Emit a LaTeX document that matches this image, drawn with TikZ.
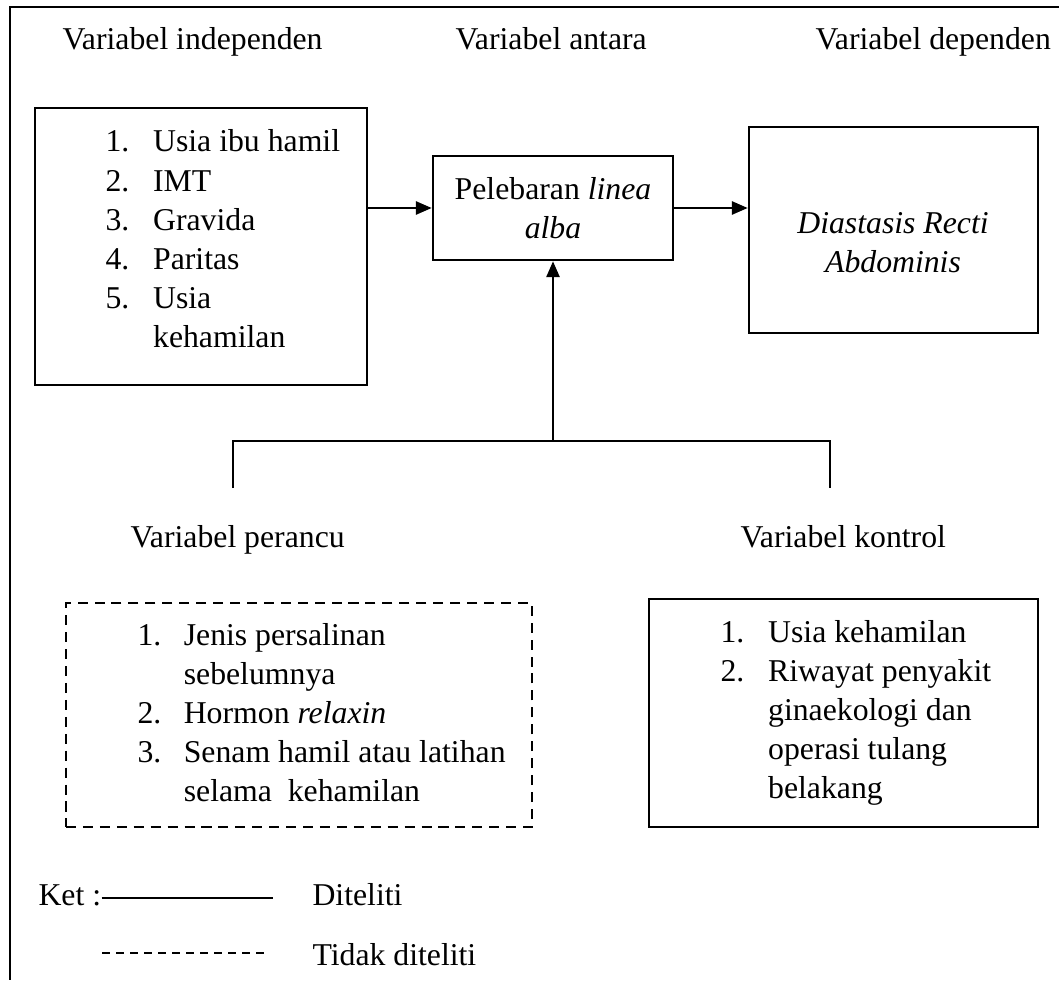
\documentclass[tikz,border=0pt]{standalone}
\usepackage{fontspec}
\setmainfont{Liberation Serif}
\usetikzlibrary{arrows.meta, positioning, fit}

\begin{document}
\begin{tikzpicture}[
  x=0.378pt, y=-0.378pt,
  every node/.style={font=\fontsize{12}{14.8}\selectfont},
  box/.style={rectangle, draw, line width=1pt, inner sep=0pt, align=center},
  dashbox/.style={box, dash pattern=on 3.8pt off 2.6pt},
  lst/.style={anchor=base west, inner sep=0pt, align=left},
  head/.style={anchor=base west, inner sep=0pt},
  txt/.style={inner sep=0pt, align=center},
  link/.style={line width=0.8pt},
  arr/.style={link, -{Triangle[length=6pt, width=5pt]}}
]
  \useasboundingbox (0,0) rectangle (1059,980);

  % frame
  \coordinate (fTL) at (10,7);
  \coordinate (fTR) at (1059,7);
  \coordinate (fBL) at (10,980);
  \draw[link] (fTR) -- (fTL) -- (fBL);

  % headings
  \node[head] (hIndep) at (62,50) {Variabel independen};
  \node[head] (hAntara) at (455,50) {Variabel antara};
  \node[head] (hDep) at (815,50) {Variabel dependen};

  % main boxes
  \node[box, fit={(35,108) (367,385)}] (indep) {};
  \node[lst] (indepList) at (105,152) {\begin{tabular}[t]{@{}p{18pt}@{}l@{}}
    1. & Usia ibu hamil\\
    2. & IMT\\
    3. & Gravida\\
    4. & Paritas\\
    5. & Usia\\
       & kehamilan
  \end{tabular}};
  \node[box, fit={(433,156) (673,260)}] (antara) {};
  \node[txt] (antaraText) at (553,208) {Pelebaran \textit{linea}\\\textit{alba}};
  \node[box, fit={(749,127) (1038,333)}] (dep) {};
  \node[txt] (depText) at (893,243) {\textit{Diastasis Recti}\\\textit{Abdominis}};

  \draw[arr] (indep.east |- antara.west) -- (antara.west);
  \draw[arr] (antara.east) -- (antara.east -| dep.west);

  % branch to the lower variables
  \coordinate (junc) at (553,441);
  \coordinate (legL) at (233,488);
  \coordinate (legR) at (830,488);
  \draw[link] (legL) |- (junc) -| (legR);
  \draw[arr] (junc) -- (antara.south);

  \node[head] (hPerancu) at (130,547) {Variabel perancu};
  \node[head] (hKontrol) at (740,547) {Variabel kontrol};

  \node[dashbox, fit={(66,603) (532,827)}] (perancu) {};
  \node[lst] (perancuList) at (137,645) {\begin{tabular}[t]{@{}p{17.5pt}@{}l@{}}
    1. & Jenis persalinan\\
       & sebelumnya\\
    2. & Hormon \textit{relaxin}\\
    3. & Senam hamil atau latihan\\
       & selama\ \ kehamilan
  \end{tabular}};

  \node[box, fit={(649,599) (1038,827)}] (kontrol) {};
  \node[lst] (kontrolList) at (720,642) {\begin{tabular}[t]{@{}p{18pt}@{}l@{}}
    1. & Usia kehamilan\\
    2. & Riwayat penyakit\\
       & ginaekologi dan\\
       & operasi tulang\\
       & belakang
  \end{tabular}};

  % legend
  \node[head] (ket) at (38,905) {Ket :};
  \coordinate (solB) at (273,898);
  \draw[line width=0.6pt] (ket.east |- solB) -- (solB);
  \node[head] (diteliti) at (312,905) {Diteliti};

  \coordinate (dashA) at (102,953);
  \coordinate (dashB) at (265,953);
  \draw[line width=0.6pt, dash pattern=on 3pt off 2.3pt] (dashA) -- (dashB);
  \node[head] (tidak) at (312,965) {Tidak diteliti};
\end{tikzpicture}
\end{document}
